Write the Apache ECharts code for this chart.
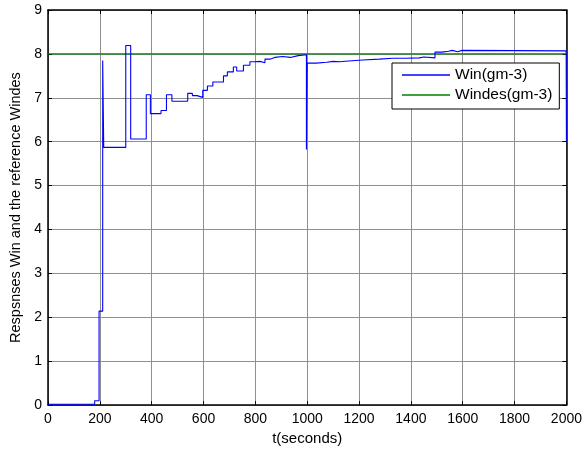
<!DOCTYPE html>
<html>
<head>
<meta charset="utf-8">
<script src="https://cdn.jsdelivr.net/npm/echarts@6/dist/echarts.min.js"></script>
<style>html,body{margin:0;padding:0;background:#fff}#c{width:585px;height:451px}</style>
</head>
<body>
<div id="c"></div>
<script>
// Win response (zero-order hold: value holds from t until next t)
const winT = [0, 180, 197, 211, 215, 300, 319, 379, 395, 436, 457, 478, 539, 557, 575, 597, 615, 636, 677, 692, 715, 728, 754, 779, 798, 818, 837, 856, 875, 905, 935, 965, 997, 1000, 1035, 1075, 1100, 1125, 1160, 1214, 1278, 1330, 1380, 1432, 1450, 1493, 1520, 1545, 1560, 1580, 1597, 1999, 2000];
const winV = [0.02, 0.1, 2.14, 7.85, 5.87, 8.19, 6.06, 7.07, 6.64, 6.71, 7.07, 6.92, 7.10, 7.05, 7.01, 7.17, 7.27, 7.36, 7.50, 7.59, 7.70, 7.61, 7.74, 7.82, 7.83, 7.80, 7.88, 7.92, 7.94, 7.92, 7.96, 7.98, 5.82, 7.79, 7.81, 7.83, 7.82, 7.84, 7.86, 7.88, 7.90, 7.90, 7.91, 7.93, 7.91, 8.04, 8.06, 8.08, 8.05, 8.08, 8.07, 8.07, 6.0];
// Reference Windes
const windesT = [0, 2000];
const windesV = [8, 8];
const xTicks = [0, 200, 400, 600, 800, 1000, 1200, 1400, 1600, 1800, 2000];
const yTicks = [0, 1, 2, 3, 4, 5, 6, 7, 8, 9];

const font = 'Liberation Sans, Arial, sans-serif';
const chart = echarts.init(document.getElementById('c'), null, {renderer: 'canvas'});
const winData = winT.map((t, i) => [t, winV[i]]);
const windesData = windesT.map((t, i) => [t, windesV[i]]);
const gridColor = '#8f8f8f';
const baseX = {
  type: 'value', min: xTicks[0], max: xTicks[xTicks.length - 1], interval: 200,
  axisLine: {show: true, onZero: false, lineStyle: {color: '#000', width: 1.5}},
  axisTick: {show: true, inside: true, length: 4, lineStyle: {color: '#000'}},
};
const baseY = {
  type: 'value', min: yTicks[0], max: yTicks[yTicks.length - 1], interval: 1,
  axisLine: {show: true, onZero: false, lineStyle: {color: '#000', width: 1.5}},
  axisTick: {show: true, inside: true, length: 4, lineStyle: {color: '#000'}},
};
chart.setOption({
  animation: false,
  backgroundColor: '#fff',
  grid: {left: 47, right: 17, top: 10, bottom: 43, containLabel: false},
  xAxis: [
    Object.assign({}, baseX, {
      position: 'bottom',
      name: 't(seconds)', nameLocation: 'middle', nameGap: 25,
      nameTextStyle: {fontFamily: font, fontSize: 15, color: '#000'},
      axisLabel: {show: true, fontFamily: font, fontSize: 14, color: '#000', margin: 7,
        formatter: v => String(v)},
      splitLine: {show: true, lineStyle: {color: gridColor, width: 1}}
    }),
    Object.assign({}, baseX, {
      position: 'top', axisLabel: {show: false}, splitLine: {show: false}
    })
  ],
  yAxis: [
    Object.assign({}, baseY, {
      position: 'left',
      name: 'Respsnses Win and the reference Windes', nameLocation: 'middle', nameGap: 25,
      nameTextStyle: {fontFamily: font, fontSize: 14.5, color: '#000'},
      axisLabel: {show: true, fontFamily: font, fontSize: 14, color: '#000', margin: 6},
      splitLine: {show: true, lineStyle: {color: gridColor, width: 1}}
    }),
    Object.assign({}, baseY, {
      position: 'right', axisLabel: {show: false}, splitLine: {show: false}
    })
  ],
  legend: {
    orient: 'vertical', left: 392, top: 63,
    backgroundColor: '#fff', borderColor: '#000', borderWidth: 1, borderRadius: 0,
    padding: [4, 7, 6, 10], itemGap: 4, itemWidth: 48, itemHeight: 1.5, icon: 'rect',
    textStyle: {fontFamily: font, fontSize: 15.5, color: '#000'},
    data: ['Win(gm-3)', 'Windes(gm-3)']
  },
  series: [
    {
      name: 'Win(gm-3)', type: 'line', step: 'end', data: winData,
      xAxisIndex: 0, yAxisIndex: 0, showSymbol: false, symbol: 'none',
      lineStyle: {color: '#0000ff', width: 1.1}, itemStyle: {color: '#0000ff'}, z: 3
    },
    {
      name: 'Windes(gm-3)', type: 'line', data: windesData,
      xAxisIndex: 0, yAxisIndex: 0, showSymbol: false, symbol: 'none',
      lineStyle: {color: '#008000', width: 1.3}, itemStyle: {color: '#008000'}, z: 2
    }
  ]
});
</script>
</body>
</html>
